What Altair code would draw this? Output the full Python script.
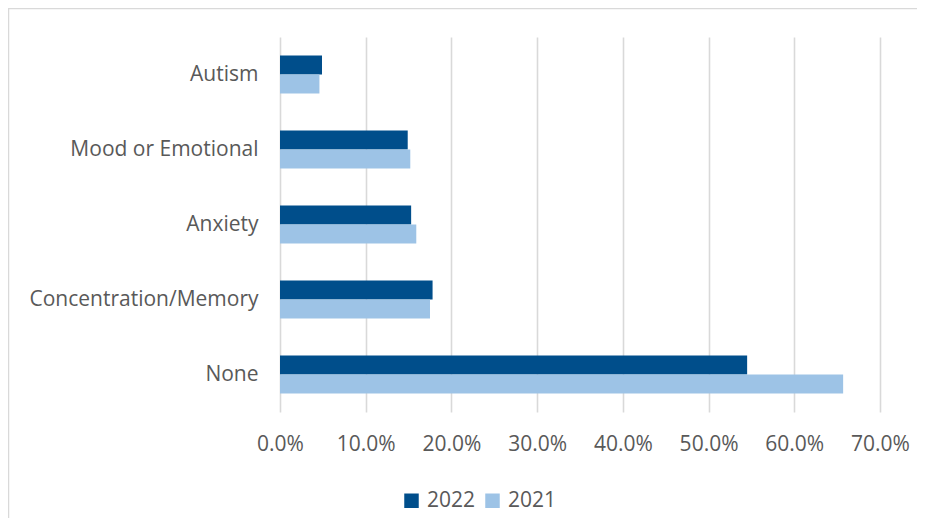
import altair as alt
import pandas as pd

categories = ["Autism", "Mood or Emotional", "Anxiety", "Concentration/Memory", "None"]
values_2022 = [0.049, 0.149, 0.153, 0.178, 0.545]
values_2021 = [0.046, 0.152, 0.159, 0.175, 0.657]
years = ["2022", "2021"]
colors = ["#004E8B", "#9DC3E6"]
x_ticks = [0, 0.1, 0.2, 0.3, 0.4, 0.5, 0.6, 0.7]

rows = []
for c, a, b in zip(categories, values_2022, values_2021):
    rows.append({"category": c, "year": "2022", "value": a})
    rows.append({"category": c, "year": "2021", "value": b})
df = pd.DataFrame(rows)

FONT = "Open Sans"
FS = 21
TXT = "#595959"
GRID = "#D9D9D9"

bars = alt.Chart(df).mark_bar().encode(
    y=alt.Y("category:N", sort=categories, title=None,
            scale=alt.Scale(paddingInner=0.493, paddingOuter=0.2465),
            axis=alt.Axis(ticks=False, domain=False, labelPadding=22, labelLimit=400,
                          labelFont=FONT, labelFontSize=FS, labelColor=TXT, grid=False)),
    yOffset=alt.YOffset("year:N", sort=years),
    x=alt.X("value:Q", title=None,
            scale=alt.Scale(domain=[0, 0.7], nice=False),
            axis=alt.Axis(values=x_ticks, format=".1%", ticks=False, domain=False,
                          grid=True, gridColor=GRID, gridWidth=1.6,
                          labelOverlap=False, labelFlush=False,
                          labelFont=FONT, labelFontSize=FS, labelColor=TXT,
                          labelPadding=32, labelBaseline="middle")),
    color=alt.Color("year:N", sort=years,
                    scale=alt.Scale(domain=years, range=colors),
                    legend=alt.Legend(title=None, orient="none", direction="horizontal",
                                      legendX=121, legendY=453, padding=0,
                                      symbolType="square", symbolSize=210,
                                      symbolStrokeWidth=0, labelOffset=5,
                                      columnPadding=6,
                                      labelFont=FONT, labelFontSize=FS,
                                      labelColor=TXT)),
)

border = alt.Chart(pd.DataFrame({"k": [0]})).mark_rect(
    fill=None, stroke=GRID, strokeWidth=1.5
).encode(
    x=alt.value(-271.5), x2=alt.value(700),
    y=alt.value(-28.5), y2=alt.value(600),
)

chart = alt.layer(border, bars).properties(
    width=600, height=375,
    autosize=alt.AutoSizeParams(type="none"),
    padding={"left": 272, "top": 29, "right": 37, "bottom": 106},
).configure_view(stroke=None)

chart.save("out.html", embed_options={"renderer": "svg", "actions": False})
